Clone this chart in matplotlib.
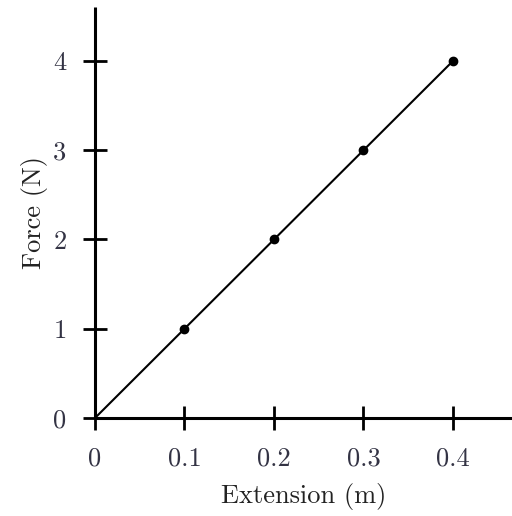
import matplotlib
matplotlib.use("Agg")
import matplotlib.pyplot as plt

# Force vs extension readings
extension = [0.0, 0.1, 0.2, 0.3, 0.4]
force = [0, 1, 2, 3, 4]
xticks = [0, 0.1, 0.2, 0.3, 0.4]
xtick_labels = ["0", "0.1", "0.2", "0.3", "0.4"]
yticks = [0, 1, 2, 3, 4]
ytick_labels = ["0", "1", "2", "3", "4"]

plt.rcParams["font.family"] = ["cmr10", "DejaVu Serif"]
plt.rcParams["axes.formatter.use_mathtext"] = True

fig = plt.figure(figsize=(5.12, 5.16), dpi=100)
ax = fig.add_axes([95 / 512, 98 / 516, 417 / 512, 411 / 516])

ax.plot(extension, force, color="black", lw=1.5)
ax.plot(extension[1:], force[1:], "o", color="black", ms=6)

ax.set_xlim(0, 0.466)
ax.set_ylim(0, 4.605)
ax.spines["top"].set_visible(False)
ax.spines["right"].set_visible(False)
for s in ("left", "bottom"):
    ax.spines[s].set_linewidth(2.2)
    ax.spines[s].set_capstyle("butt")

ax.set_xticks(xticks, xtick_labels)
ax.set_yticks(yticks, ytick_labels)
ax.tick_params(direction="inout", length=17, width=2, labelsize=19, colors="black")
ax.tick_params(axis="x", pad=12)
ax.tick_params(axis="y", pad=12)
for lab in ax.get_xticklabels() + ax.get_yticklabels():
    lab.set_color("#333344")

ax.set_xlabel("Extension (m)", fontsize=19, labelpad=9, color="#222222")
ax.set_ylabel("Force (N)", fontsize=19, labelpad=4, color="#222222")

fig.savefig("out.png", dpi=100)
